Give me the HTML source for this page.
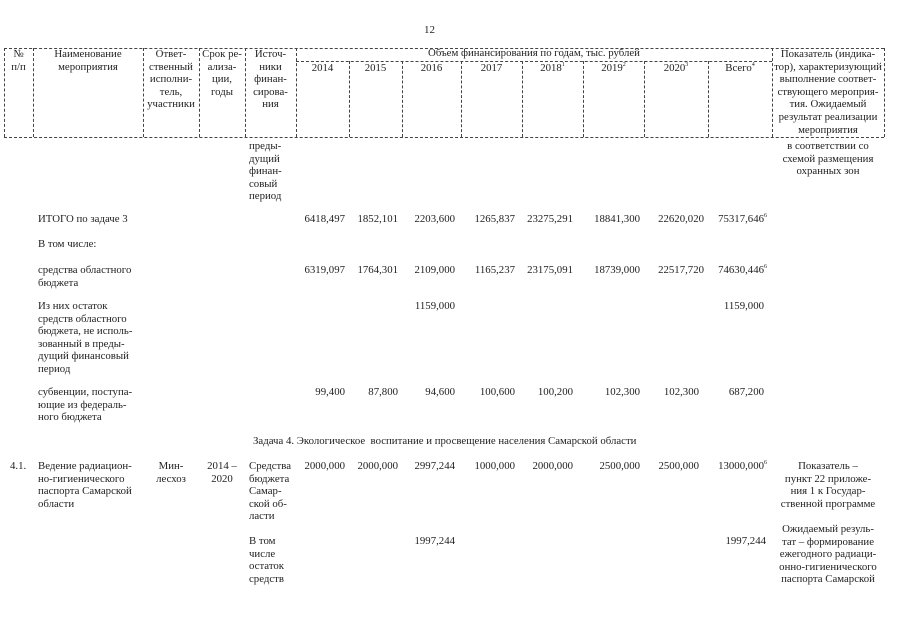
<!DOCTYPE html>
<html><head><meta charset="utf-8"><style>
body{margin:0;background:#fff;width:905px;height:640px;position:relative;overflow:hidden;font-family:"Liberation Serif","DejaVu Serif",serif;font-size:10.8px;line-height:12.6px;color:#222}
.a{position:absolute;white-space:nowrap}
.c{text-align:center}
.r{text-align:right}
.v{position:absolute;width:0;border-left:1px dashed #444}
.h{position:absolute;height:0;border-top:1px dashed #444}
sup{font-size:6px;line-height:0;vertical-align:5px}
</style></head><body>
<div class="a" style="left:424px;top:24px;font-size:11px">12</div>

<div class="h" style="left:4px;top:48px;width:880px"></div>
<div class="h" style="left:296px;top:61px;width:476px"></div>
<div class="h" style="left:4px;top:137px;width:880px"></div>
<div class="v" style="left:4px;top:48px;height:89px"></div>
<div class="v" style="left:33px;top:48px;height:89px"></div>
<div class="v" style="left:143px;top:48px;height:89px"></div>
<div class="v" style="left:199px;top:48px;height:89px"></div>
<div class="v" style="left:245px;top:48px;height:89px"></div>
<div class="v" style="left:296px;top:48px;height:89px"></div>
<div class="v" style="left:349px;top:61px;height:76px"></div>
<div class="v" style="left:402px;top:61px;height:76px"></div>
<div class="v" style="left:461px;top:61px;height:76px"></div>
<div class="v" style="left:522px;top:61px;height:76px"></div>
<div class="v" style="left:583px;top:61px;height:76px"></div>
<div class="v" style="left:644px;top:61px;height:76px"></div>
<div class="v" style="left:708px;top:61px;height:76px"></div>
<div class="v" style="left:772px;top:48px;height:89px"></div>
<div class="v" style="left:884px;top:48px;height:89px"></div>

<div class="a c" style="left:4px;width:29px;top:48px">№<br>п/п</div>
<div class="a c" style="left:33px;width:110px;top:48px">Наименование<br>мероприятия</div>
<div class="a c" style="left:143px;width:56px;top:48px">Ответ-<br>ственный<br>исполни-<br>тель,<br>участники</div>
<div class="a c" style="left:199px;width:46px;top:48px">Срок ре-<br>ализа-<br>ции,<br>годы</div>
<div class="a c" style="left:245px;width:51px;top:48px">Источ-<br>ники<br>финан-<br>сирова-<br>ния</div>
<div class="a c" style="left:296px;width:476px;top:47px">Объем финансирования по годам, тыс. рублей</div>
<div class="a c" style="left:296px;width:53px;top:62px">2014</div>
<div class="a c" style="left:349px;width:53px;top:62px">2015</div>
<div class="a c" style="left:402px;width:59px;top:62px">2016</div>
<div class="a c" style="left:461px;width:61px;top:62px">2017</div>
<div class="a c" style="left:522px;width:61px;top:62px">2018<sup>1</sup></div>
<div class="a c" style="left:583px;width:61px;top:62px">2019<sup>2</sup></div>
<div class="a c" style="left:644px;width:64px;top:62px">2020<sup>3</sup></div>
<div class="a c" style="left:708px;width:64px;top:62px">Всего<sup>4</sup></div>
<div class="a c" style="left:772px;width:112px;top:48px">Показатель (индика-<br>тор), характеризующий<br>выполнение соответ-<br>ствующего мероприя-<br>тия. Ожидаемый<br>результат реализации<br>мероприятия</div>

<div class="a" style="left:249px;top:140px">преды-<br>дущий<br>финан-<br>совый<br>период</div>
<div class="a c" style="left:772px;width:112px;top:140px">в соответствии со<br>схемой размещения<br>охранных зон</div>

<div class="a" style="left:38px;top:213px">ИТОГО по задаче 3</div>
<div class="a r" style="left:296px;width:49px;top:213px">6418,497</div>
<div class="a r" style="left:349px;width:49px;top:213px">1852,101</div>
<div class="a r" style="left:402px;width:53px;top:213px">2203,600</div>
<div class="a r" style="left:461px;width:54px;top:213px">1265,837</div>
<div class="a r" style="left:522px;width:51px;top:213px">23275,291</div>
<div class="a r" style="left:583px;width:57px;top:213px">18841,300</div>
<div class="a r" style="left:644px;width:60px;top:213px">22620,020</div>
<div class="a r" style="left:708px;width:59px;top:213px">75317,646<sup>6</sup></div>

<div class="a" style="left:38px;top:238px">В том числе:</div>

<div class="a" style="left:38px;top:264px">средства областного<br>бюджета</div>
<div class="a r" style="left:296px;width:49px;top:264px">6319,097</div>
<div class="a r" style="left:349px;width:49px;top:264px">1764,301</div>
<div class="a r" style="left:402px;width:53px;top:264px">2109,000</div>
<div class="a r" style="left:461px;width:54px;top:264px">1165,237</div>
<div class="a r" style="left:522px;width:51px;top:264px">23175,091</div>
<div class="a r" style="left:583px;width:57px;top:264px">18739,000</div>
<div class="a r" style="left:644px;width:60px;top:264px">22517,720</div>
<div class="a r" style="left:708px;width:59px;top:264px">74630,446<sup>6</sup></div>

<div class="a" style="left:38px;top:300px">Из них остаток<br>средств областного<br>бюджета, не исполь-<br>зованный в преды-<br>дущий финансовый<br>период</div>
<div class="a r" style="left:402px;width:53px;top:300px">1159,000</div>
<div class="a r" style="left:708px;width:56px;top:300px">1159,000</div>

<div class="a" style="left:38px;top:386px">субвенции, поступа-<br>ющие из федераль-<br>ного бюджета</div>
<div class="a r" style="left:296px;width:49px;top:386px">99,400</div>
<div class="a r" style="left:349px;width:49px;top:386px">87,800</div>
<div class="a r" style="left:402px;width:53px;top:386px">94,600</div>
<div class="a r" style="left:461px;width:54px;top:386px">100,600</div>
<div class="a r" style="left:522px;width:51px;top:386px">100,200</div>
<div class="a r" style="left:583px;width:57px;top:386px">102,300</div>
<div class="a r" style="left:644px;width:55px;top:386px">102,300</div>
<div class="a r" style="left:708px;width:56px;top:386px">687,200</div>

<div class="a" style="left:253px;top:435px">Задача 4. Экологическое&nbsp; воспитание и просвещение населения Самарской области</div>

<div class="a" style="left:10px;top:460px">4.1.</div>
<div class="a" style="left:38px;top:460px">Ведение радиацион-<br>но-гигиенического<br>паспорта Самарской<br>области</div>
<div class="a c" style="left:143px;width:56px;top:460px">Мин-<br>лесхоз</div>
<div class="a c" style="left:199px;width:46px;top:460px">2014 –<br>2020</div>
<div class="a" style="left:249px;top:460px">Средства<br>бюджета<br>Самар-<br>ской об-<br>ласти</div>
<div class="a r" style="left:296px;width:49px;top:460px">2000,000</div>
<div class="a r" style="left:349px;width:49px;top:460px">2000,000</div>
<div class="a r" style="left:402px;width:53px;top:460px">2997,244</div>
<div class="a r" style="left:461px;width:54px;top:460px">1000,000</div>
<div class="a r" style="left:522px;width:51px;top:460px">2000,000</div>
<div class="a r" style="left:583px;width:57px;top:460px">2500,000</div>
<div class="a r" style="left:644px;width:55px;top:460px">2500,000</div>
<div class="a r" style="left:708px;width:59px;top:460px">13000,000<sup>6</sup></div>
<div class="a c" style="left:772px;width:112px;top:460px">Показатель –<br>пункт 22 приложе-<br>ния 1 к Государ-<br>ственной программе</div>

<div class="a" style="left:249px;top:535px">В том<br>числе<br>остаток<br>средств</div>
<div class="a r" style="left:402px;width:53px;top:535px">1997,244</div>
<div class="a r" style="left:708px;width:58px;top:535px">1997,244</div>
<div class="a c" style="left:772px;width:112px;top:523px">Ожидаемый резуль-<br>тат – формирование<br>ежегодного радиаци-<br>онно-гигиенического<br>паспорта Самарской</div>
</body></html>
